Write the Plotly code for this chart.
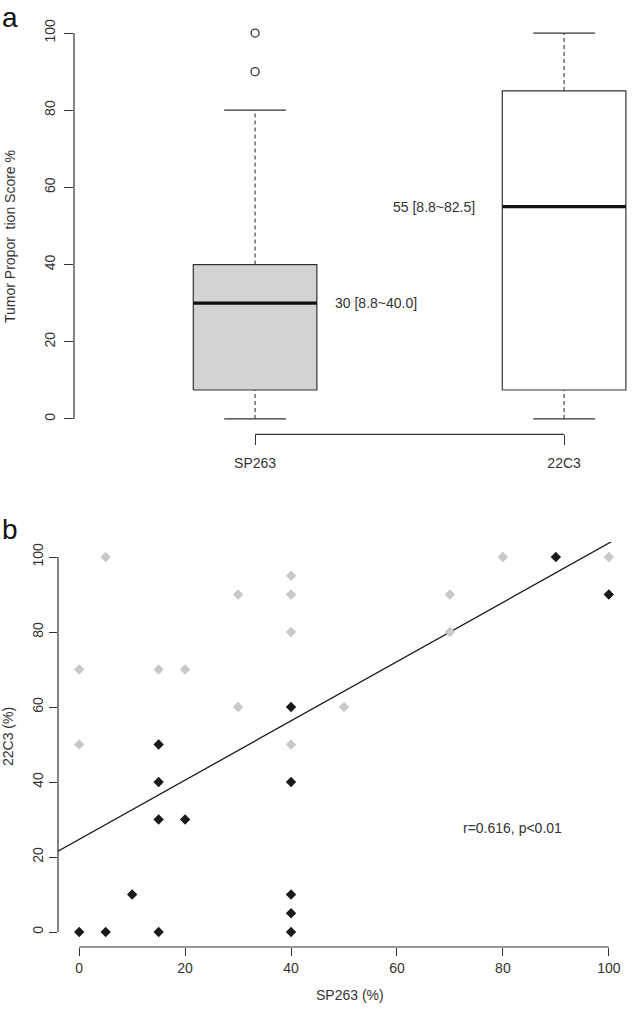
import plotly.graph_objects as go

# ---------------- data ----------------
box_categories = ["SP263", "22C3"]
box_q1 = [7.5, 7.5]
box_median = [30, 55]
box_q3 = [40, 85]
box_lower = [0, 0]
box_upper = [80, 100]
box_outliers = [[90, 100], []]
box_labels = ["30 [8.8~40.0]", "55 [8.8~82.5]"]

gray_x = [0, 0, 5, 15, 20, 30, 30, 40, 40, 40, 40, 50, 70, 70, 80, 100]
gray_y = [70, 50, 100, 70, 70, 90, 60, 95, 90, 80, 50, 60, 90, 80, 100, 100]
black_x = [0, 5, 10, 15, 15, 15, 15, 20, 40, 40, 40, 40, 40, 90, 100]
black_y = [0, 0, 10, 50, 40, 30, 0, 30, 60, 40, 10, 5, 0, 100, 90]

fit_intercept = 24.7
fit_slope = 0.79
corr_text = "r=0.616, p<0.01"

y_ticks = [0, 20, 40, 60, 80, 100]
x_ticks = [0, 20, 40, 60, 80, 100]

# ---------------- style ----------------
INK = "#333333"
FONT = "Liberation Sans, Arial, sans-serif"
FS = 14
W, H = 633, 1024
half_w = 0.2
cap_w = 0.1
box_fills = ["#d3d3d3", "#ffffff"]

fig = go.Figure()

# --- top panel: boxplots (x, y) ---
for i, cat in enumerate(box_categories):
    p = i + 1
    q1, med, q3 = box_q1[i], box_median[i], box_q3[i]
    lo, hi = box_lower[i], box_upper[i]
    fig.add_trace(go.Scatter(x=[p, p, None, p, p], y=[q3, hi, None, lo, q1],
                             mode="lines", line=dict(color=INK, width=1.1, dash="4px,3px"),
                             xaxis="x", yaxis="y", hoverinfo="skip", showlegend=False))
    fig.add_trace(go.Scatter(x=[p - cap_w, p + cap_w, None, p - cap_w, p + cap_w],
                             y=[hi, hi, None, lo, lo],
                             mode="lines", line=dict(color=INK, width=1.2),
                             xaxis="x", yaxis="y", hoverinfo="skip", showlegend=False))
    fig.add_trace(go.Scatter(x=[p - half_w, p + half_w, p + half_w, p - half_w, p - half_w],
                             y=[q1, q1, q3, q3, q1], mode="lines", fill="toself",
                             fillcolor=box_fills[i], line=dict(color=INK, width=1.2),
                             xaxis="x", yaxis="y", hoverinfo="skip", showlegend=False))
    fig.add_trace(go.Scatter(x=[p - half_w, p + half_w], y=[med, med], mode="lines",
                             line=dict(color="#111111", width=3.2),
                             xaxis="x", yaxis="y", hoverinfo="skip", showlegend=False))
    if box_outliers[i]:
        fig.add_trace(go.Scatter(x=[p] * len(box_outliers[i]), y=box_outliers[i], mode="markers",
                                 marker=dict(symbol="circle-open", size=8, color=INK,
                                             line=dict(width=1.3, color=INK)),
                                 xaxis="x", yaxis="y", hoverinfo="skip", showlegend=False,
                                 cliponaxis=False))

fig.add_annotation(x=1.252, y=box_median[0], xref="x", yref="y", text=box_labels[0],
                   showarrow=False, xanchor="left", yanchor="middle",
                   font=dict(size=FS, color=INK, family=FONT))
fig.add_annotation(x=1.718, y=box_median[1], xref="x", yref="y", text=box_labels[1],
                   showarrow=False, xanchor="right", yanchor="middle",
                   font=dict(size=FS, color=INK, family=FONT))

# --- bottom panel: scatter (x2, y2) ---
fit_x = [-4, 104]
fit_y = [fit_intercept + fit_slope * v for v in fit_x]
fig.add_trace(go.Scatter(x=fit_x, y=fit_y, mode="lines", line=dict(color="#1a1a1a", width=1.3),
                         xaxis="x2", yaxis="y2", hoverinfo="skip", showlegend=False,
                         cliponaxis=True))
fig.add_trace(go.Scatter(x=gray_x, y=gray_y, mode="markers",
                         marker=dict(symbol="diamond", size=8, color="#c8c8c8"),
                         xaxis="x2", yaxis="y2", showlegend=False, cliponaxis=False))
fig.add_trace(go.Scatter(x=black_x, y=black_y, mode="markers",
                         marker=dict(symbol="diamond", size=8, color="#1a1a1a"),
                         xaxis="x2", yaxis="y2", showlegend=False, cliponaxis=False))
fig.add_annotation(x=81.9, y=27.7, xref="x2", yref="y2", text=corr_text, showarrow=False,
                   xanchor="center", yanchor="middle", font=dict(size=FS, color=INK, family=FONT))

shapes = [
    dict(type="line", xref="x domain", yref="y", x0=0, x1=0, y0=y_ticks[0], y1=y_ticks[-1],
         line=dict(color=INK, width=1.2)),
    dict(type="line", xref="x", yref="y domain", x0=1, x1=len(box_categories), y0=0, y1=0,
         line=dict(color=INK, width=1.2)),
    dict(type="line", xref="x2 domain", yref="y2", x0=0, x1=0, y0=y_ticks[0], y1=y_ticks[-1],
         line=dict(color=INK, width=1.2)),
    dict(type="line", xref="x2", yref="y2 domain", x0=x_ticks[0], x1=x_ticks[-1], y0=0, y1=0,
         line=dict(color=INK, width=1.2)),
]

ann = [
    dict(x=0 / W, y=1 - 17 / H, text="a", xanchor="left",
         font=dict(size=28, color="#111111", family=FONT)),
    dict(x=0 / W, y=1 - 529 / H, text="b", xanchor="left",
         font=dict(size=28, color="#111111", family=FONT)),
    dict(x=10 / W, y=1 - 237 / H, text="Tumor Propor  tion Score %", textangle=-90,
         xanchor="center", font=dict(size=FS, color=INK, family=FONT)),
    dict(x=8 / W, y=1 - 737 / H, text="22C3 (%)", textangle=-90,
         xanchor="center", font=dict(size=FS, color=INK, family=FONT)),
    dict(x=350 / W, y=1 - 995 / H, text="SP263 (%)", xanchor="center",
         font=dict(size=FS, color=INK, family=FONT)),
]
for a in ann:
    fig.add_annotation(xref="paper", yref="paper", showarrow=False, yanchor="middle", **a)

tickfont = dict(size=FS, color=INK, family=FONT)
fig.update_layout(
    width=W, height=H,
    margin=dict(l=0, r=0, t=0, b=0),
    paper_bgcolor="white", plot_bgcolor="white",
    font=dict(family=FONT, color=INK),
    shapes=shapes,
    xaxis=dict(domain=[74 / W, 1], range=[0.414, 2.223], tickvals=[1, 2],
               ticktext=box_categories, ticks="outside", ticklen=10, tickcolor=INK,
               tickwidth=1.2, showline=False, showgrid=False, zeroline=False,
               tickfont=tickfont, anchor="y", ticklabelstandoff=6),
    yaxis=dict(domain=[1 - 434.4 / H, 1 - 17.6 / H], range=[-4, 104], tickvals=y_ticks,
               ticks="outside", ticklen=9, tickcolor=INK, tickwidth=1.2, tickangle=-90,
               showline=False, showgrid=False, zeroline=False, tickfont=tickfont, anchor="x",
               ticklabelstandoff=3),
    xaxis2=dict(domain=[58 / W, 630 / W], range=[-4, 104], tickvals=x_ticks,
                ticks="outside", ticklen=8, tickcolor=INK, tickwidth=1.2,
                showline=False, showgrid=False, zeroline=False, tickfont=tickfont, anchor="y2"),
    yaxis2=dict(domain=[1 - 947 / H, 1 - 542 / H], range=[-4, 104], tickvals=y_ticks,
                ticks="outside", ticklen=8, tickcolor=INK, tickwidth=1.2, tickangle=-90,
                showline=False, showgrid=False, zeroline=False, tickfont=tickfont, anchor="x2"),
)

fig.write_html("out.html", config={"displayModeBar": False},
               post_script="document.body.style.margin='0';")
